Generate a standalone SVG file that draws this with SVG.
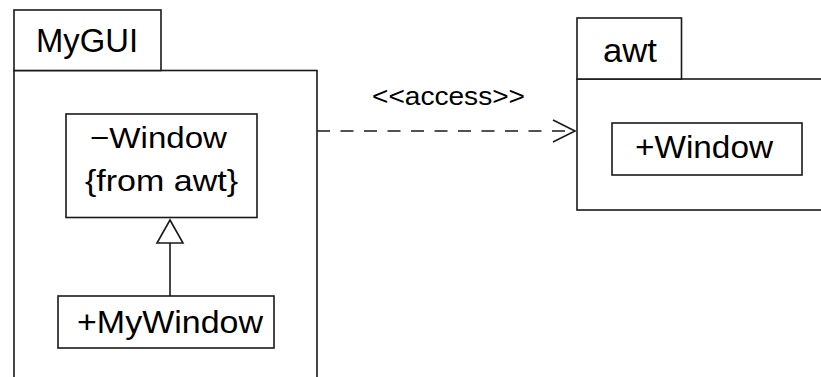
<svg xmlns="http://www.w3.org/2000/svg" width="821" height="377" viewBox="0 0 821 377">
<style>
.b{fill:#fff;stroke:#1a1a1a;stroke-width:1.6}
.t{font-family:"Liberation Sans",Arial,sans-serif;fill:#000}
.c{fill:none;stroke:#1a1a1a;stroke-width:1.6}
</style>
<rect width="821" height="377" fill="#fff"/>
<g id="MyGUI">
<rect class="b" x="14" y="70.5" width="303" height="330"/>
<rect class="b" x="14" y="10" width="147" height="60.5"/>
<text class="t" x="36" y="52" font-size="34" textLength="102" lengthAdjust="spacingAndGlyphs">MyGUI</text>
</g>
<g id="awt">
<rect class="b" x="577" y="79" width="260" height="131"/>
<rect class="b" x="577" y="18" width="104.5" height="61"/>
<text class="t" x="603" y="62" font-size="34" textLength="54" lengthAdjust="spacingAndGlyphs">awt</text>
</g>
<g id="WindowFromAwt">
<rect class="b" x="66" y="114" width="191" height="103.5"/>
<text class="t" x="90" y="148" font-size="30" textLength="137" lengthAdjust="spacingAndGlyphs">−Window</text>
<text class="t" x="85" y="191" font-size="30" textLength="153" lengthAdjust="spacingAndGlyphs">{from awt}</text>
</g>
<g id="MyWindow">
<rect class="b" x="58" y="296" width="216" height="52"/>
<text class="t" x="77" y="333" font-size="31" textLength="186" lengthAdjust="spacingAndGlyphs">+MyWindow</text>
</g>
<g id="AwtWindow">
<rect class="b" x="612" y="123" width="190" height="52"/>
<text class="t" x="635" y="158" font-size="31" textLength="138" lengthAdjust="spacingAndGlyphs">+Window</text>
</g>
<g id="connectors">
<line class="c" x1="170" y1="243" x2="170" y2="296"/>
<polygon class="b" points="170,220 157,243 183,243"/>
<line class="c" x1="317" y1="131" x2="574" y2="131" stroke-dasharray="13 10.5"/>
<polyline class="c" points="553,120 575,131 553,142"/>
<text class="t" x="372" y="105" font-size="26" textLength="153" lengthAdjust="spacingAndGlyphs">&lt;&lt;access&gt;&gt;</text>
</g>
</svg>
